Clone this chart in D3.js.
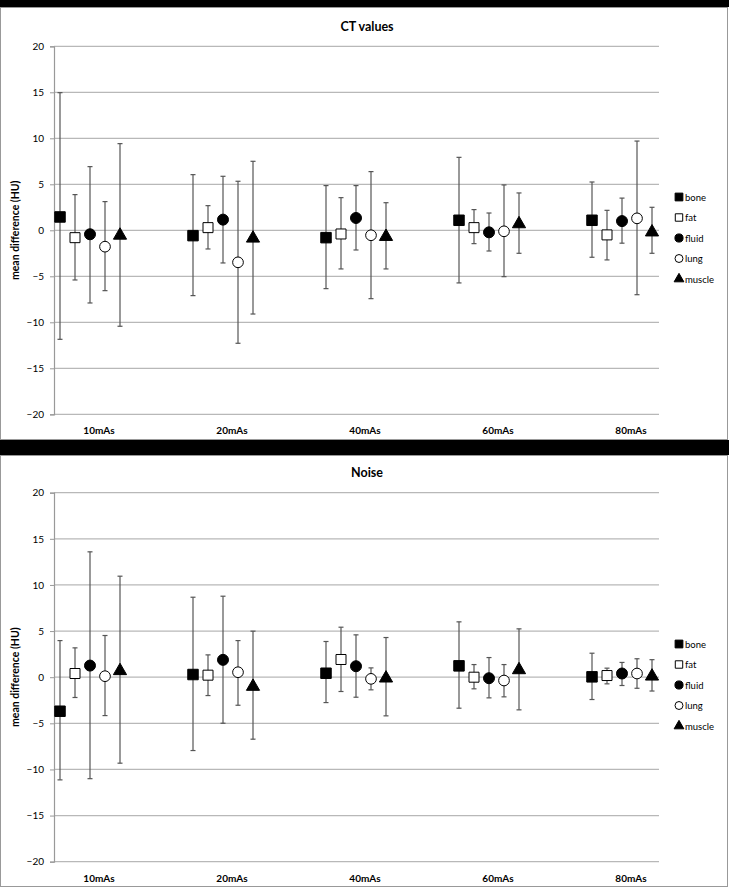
<!DOCTYPE html>
<html><head><meta charset="utf-8">
<script src="https://cdn.jsdelivr.net/npm/d3@7"></script>
<style>body{margin:0;background:#fff}svg{display:block}text{font-family:Lato,"Open Sans",sans-serif}</style>
</head><body><svg id="c" width="729" height="888"></svg>
<script>
const categories = ["10mAs","20mAs","40mAs","60mAs","80mAs"];
const series = ["bone","fat","fluid","lung","muscle"];
const yTicks = [-20,-15,-10,-5,0,5,10,15,20];

// rows = series (bone, fat, fluid, lung, muscle), columns = categories
const ctMean  = [[1.45,-0.58,-0.8,1.09,1.09],[-0.8,0.29,-0.4,0.29,-0.5],[-0.43,1.16,1.34,-0.22,1.0],[-1.78,-3.48,-0.54,-0.11,1.3],[-0.55,-0.87,-0.69,0.69,-0.2]];
const ctUpper = [[14.96,6.05,4.86,7.93,5.25],[3.88,2.68,3.55,2.25,2.17],[6.92,5.87,4.86,1.88,3.5],[3.12,5.33,6.38,4.93,9.7],[9.42,7.5,3.0,4.06,2.5]];
const ctLower = [[-11.85,-7.1,-6.34,-5.72,-2.93],[-5.4,-2.03,-4.2,-1.45,-3.22],[-7.9,-3.55,-2.14,-2.25,-1.4],[-6.56,-12.28,-7.43,-5.04,-7.0],[-10.43,-9.1,-4.2,-2.5,-2.5]];

const noiseMean  = [[-3.69,0.29,0.43,1.23,0.04],[0.4,0.22,1.92,0.0,0.18],[1.26,1.88,1.19,-0.11,0.4],[0.11,0.54,-0.18,-0.36,0.4],[0.69,-1.01,-0.11,0.79,0.1]];
const noiseUpper = [[3.97,8.67,3.87,6.0,2.6],[3.18,2.42,5.42,1.37,0.98],[13.59,8.78,4.59,2.13,1.6],[4.52,3.97,1.01,1.37,2.0],[10.95,4.99,4.3,5.24,1.9]];
const noiseLower = [[-11.13,-7.95,-2.75,-3.36,-2.42],[-2.2,-1.99,-1.55,-1.26,-0.72],[-11.0,-4.99,-2.17,-2.24,-0.9],[-4.16,-3.04,-1.37,-2.13,-1.2],[-9.32,-6.72,-4.19,-3.54,-1.5]];

const svg = d3.select("#c");

// frames
svg.append("rect").attr("x",0).attr("y",0).attr("width",729).attr("height",7).attr("fill","#000");
svg.append("rect").attr("x",0.5).attr("y",7.5).attr("width",727).attr("height",432).attr("fill","none").attr("stroke","#999");
svg.append("rect").attr("x",0).attr("y",440).attr("width",729).attr("height",15).attr("fill","#000");
svg.append("rect").attr("x",0.5).attr("y",455.5).attr("width",727).attr("height",431).attr("fill","none").attr("stroke","#999");

const x = d3.scalePoint().domain(categories).range([99,631]);
const off = d3.scalePoint().domain(series).range([-39,21]);

const sym = {
  bone: {type:d3.symbolSquare, size:110, fill:"#000"},
  fat: {type:d3.symbolSquare, size:100, fill:"#fff"},
  fluid: {type:d3.symbolCircle, size:95, fill:"#000"},
  lung: {type:d3.symbolCircle, size:90, fill:"#fff"},
  muscle: {type:d3.symbolTriangle, size:75, fill:"#000"}
};

function panel(title, titleY, yTop, yBot, mean, upper, lower, legendY) {
  const y = d3.scaleLinear().domain([-20,20]).range([yBot,yTop]);
  const g = svg.append("g");
  g.append("text").attr("x",367).attr("y",titleY).attr("text-anchor","middle")
    .attr("font-size",12.5).attr("font-weight","bold").text(title);
  // gridlines
  g.selectAll(".grid").data(yTicks).enter().append("line")
    .attr("x1",54).attr("x2",659).attr("y1",d=>y(d)).attr("y2",d=>y(d))
    .attr("stroke","#b8b8b8").attr("stroke-width",1.2);
  // y axis
  const ax = g.append("g").attr("transform","translate(54,0)")
    .call(d3.axisLeft(y).tickValues(yTicks).tickSize(4).tickPadding(6));
  ax.select(".domain").attr("stroke","#999").attr("stroke-width",1.2);
  ax.selectAll(".tick line").attr("stroke","#999");
  ax.selectAll(".tick text").attr("font-size",10).attr("fill","#000").attr("font-family","Lato, sans-serif");
  // axis title
  g.append("text").attr("transform",`translate(19,${(yTop+yBot)/2}) rotate(-90)`)
    .attr("text-anchor","middle").attr("font-size",10.5).attr("font-weight","bold").text("mean difference (HU)");
  // category labels
  g.selectAll(".cat").data(categories).enter().append("text")
    .attr("x",d=>x(d)).attr("y",yBot+20).attr("text-anchor","middle")
    .attr("font-size",10).attr("font-weight","bold").text(d=>d);
  // data
  const pts = [];
  series.forEach((s,i)=>categories.forEach((c,j)=>pts.push({s,c,m:mean[i][j],hi:upper[i][j],lo:lower[i][j]})));
  const eb = g.selectAll(".eb").data(pts).enter().append("g")
    .attr("transform",d=>`translate(${x(d.c)+off(d.s)},0)`);
  eb.append("line").attr("y1",d=>y(d.hi)).attr("y2",d=>y(d.lo)).attr("stroke","#555").attr("stroke-width",1.2);
  eb.append("line").attr("x1",-2.5).attr("x2",2.5).attr("y1",d=>y(d.hi)).attr("y2",d=>y(d.hi)).attr("stroke","#555").attr("stroke-width",1.2);
  eb.append("line").attr("x1",-2.5).attr("x2",2.5).attr("y1",d=>y(d.lo)).attr("y2",d=>y(d.lo)).attr("stroke","#555").attr("stroke-width",1.2);
  eb.append("path").attr("transform",d=>`translate(0,${y(d.m)})`)
    .attr("d",d=>d3.symbol().type(sym[d.s].type).size(sym[d.s].size)())
    .attr("fill",d=>sym[d.s].fill).attr("stroke","#000").attr("stroke-width",1);
  // legend
  const lg = g.selectAll(".lg").data(series).enter().append("g")
    .attr("transform",(d,i)=>`translate(679,${legendY+i*20.5})`);
  lg.append("path").attr("d",d=>d3.symbol().type(sym[d].type).size(sym[d].size*0.55)())
    .attr("fill",d=>sym[d].fill).attr("stroke","#000").attr("stroke-width",1);
  lg.append("text").attr("x",6).attr("y",3.5).attr("font-size",9.5).text(d=>d);
}

panel("CT values", 31, 46.3, 414.3, ctMean, ctUpper, ctLower, 197);
panel("Noise", 477, 492.7, 861.7, noiseMean, noiseUpper, noiseLower, 644);
</script></body></html>
